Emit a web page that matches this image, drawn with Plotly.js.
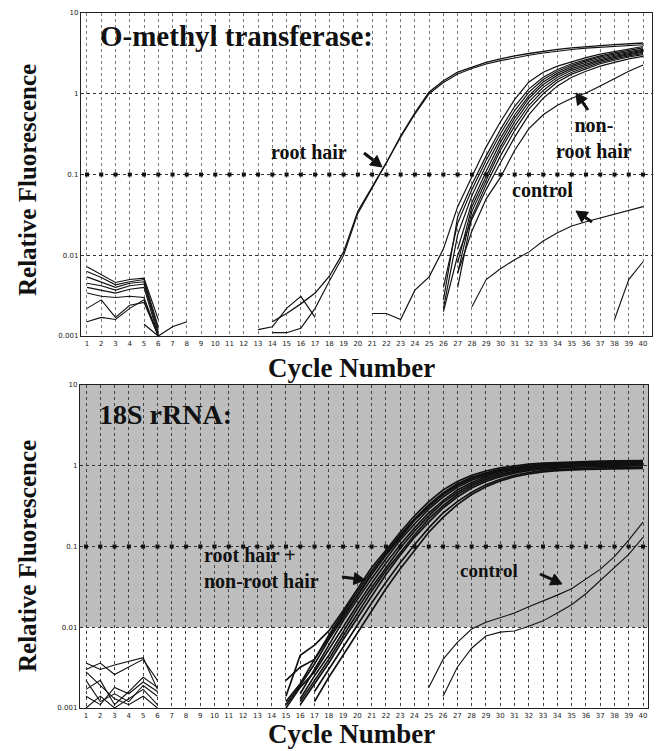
<!DOCTYPE html>
<html>
<head>
<meta charset="utf-8">
<script src="https://cdn.plot.ly/plotly-3.0.1.min.js"></script>
<style>html,body{margin:0;padding:0;background:#fff;}#chart{width:660px;height:751px;}</style>
</head>
<body>
<div id="chart"></div>
<script>
// ---------- data ----------
const cycles = [1,2,3,4,5,6,7,8,9,10,11,12,13,14,15,16,17,18,19,20,21,22,23,24,25,26,27,28,29,30,31,32,33,34,35,36,37,38,39,40];
const cycleLabels = cycles.map(String);
const yTickVals = [0.001, 0.01, 0.1, 1, 10];
const yTickText = ['0.001', '0.01', '0.1', '1', '10'];
const threshold = 0.1;

// Panel 1: O-methyl transferase
const omtEarlyCycles = [1,2,3,4,5,6];
const omtEarly = [
  [0.0072,0.0058,0.0046,0.0050,0.0052,0.0016],
  [0.0063,0.0053,0.0043,0.0047,0.0050,0.0013],
  [0.0054,0.0047,0.0040,0.0045,0.0047,0.0012],
  [0.0045,0.0042,0.0037,0.0042,0.0044,0.0011],
  [0.0040,0.0037,0.0034,0.0038,0.0040,0.0010],
  [0.0034,0.0031,0.0030,0.0031,0.0030,0.0010],
  [0.0022,0.0028,0.0017,0.0024,0.0026,0.0010],
  [0.0015,0.0017,0.0016,0.0022,0.0028,0.0010]
];
const omtLateNoiseCycles = [5,6,7,8];
const omtLateNoise = [0.0014,0.0010,0.0013,0.0015];
const omtBumpCycles = [13,14,15,16,17];
const omtBump = [0.0012,0.0013,0.0022,0.0031,0.0017];

const omtRootCycles = [14,15,16,17,18,19,20,21,22,23,24,25,26,27,28,29,30,31,32,33,34,35,36,37,38,39,40];
const omtRootHairA = [0.0015,0.0019,0.0025,0.0034,0.0055,0.011,0.035,0.07,0.14,0.30,0.58,1.05,1.45,1.85,2.15,2.45,2.7,2.95,3.15,3.35,3.55,3.7,3.85,3.95,4.05,4.15,4.25];
const omtRootHairB = [0.0011,0.0011,0.00125,0.0022,0.0048,0.010,0.033,0.068,0.135,0.29,0.56,1.0,1.38,1.76,2.05,2.33,2.57,2.8,3.0,3.2,3.38,3.53,3.67,3.78,3.88,3.97,4.05];

const omtNonRootCycles = [21,22,23,24,25,26,27,28,29,30,31,32,33,34,35,36,37,38,39,40];
const omtNonRoot = [
  [0.0019,0.0019,0.0016,0.0037,0.0054,0.012,0.04,0.095,0.22,0.45,0.85,1.4,1.85,2.2,2.5,2.8,3.1,3.35,3.6,3.85],
  [null,null,null,null,null,0.0028,0.03,0.075,0.17,0.36,0.7,1.15,1.6,2.0,2.35,2.65,2.95,3.2,3.45,3.7],
  [null,null,null,null,null,0.004,0.025,0.065,0.15,0.32,0.62,1.05,1.5,1.9,2.25,2.55,2.85,3.1,3.35,3.55],
  [null,null,null,null,null,0.0022,0.018,0.055,0.13,0.28,0.55,0.95,1.4,1.8,2.15,2.45,2.75,3.0,3.25,3.45],
  [null,null,null,null,null,null,0.012,0.045,0.11,0.25,0.5,0.88,1.3,1.7,2.05,2.35,2.65,2.9,3.15,3.35],
  [null,null,null,null,null,null,0.008,0.04,0.095,0.22,0.45,0.8,1.2,1.6,1.95,2.25,2.55,2.8,3.05,3.25],
  [null,null,null,null,null,null,0.006,0.035,0.085,0.2,0.4,0.72,1.1,1.5,1.85,2.15,2.45,2.7,2.95,3.15],
  [null,null,null,null,null,null,0.004,0.03,0.075,0.17,0.35,0.65,1.0,1.4,1.75,2.05,2.35,2.6,2.85,3.05],
  [null,null,null,null,null,0.002,0.01,0.028,0.065,0.14,0.29,0.55,0.88,1.25,1.6,1.9,2.2,2.45,2.7,2.9],
  [null,null,null,null,null,null,0.006,0.02,0.05,0.092,0.2,0.37,0.55,0.72,0.88,1.02,1.25,1.55,1.9,2.27]
];
const omtControlCycles = [28,29,30,31,32,33,34,35,36,37,38,39,40];
const omtControl = [0.0023,0.005,0.0068,0.0088,0.011,0.015,0.019,0.023,0.026,0.029,0.032,0.036,0.040];
const omtControl2Cycles = [38,39,40];
const omtControl2 = [0.0016,0.005,0.0083];

// Panel 2: 18S rRNA
const rrnaEarlyCycles = [1,2,3,4,5,6];
const rrnaEarly = [
  [0.0036,0.0030,0.0034,0.0038,0.0042,0.0017],
  [0.0030,0.0036,0.0026,0.0032,0.0040,0.0022],
  [0.0017,0.0022,0.0011,0.0016,0.0024,0.0018],
  [0.0014,0.0011,0.0018,0.0015,0.0021,0.0016],
  [0.0022,0.0012,0.0015,0.0012,0.0019,0.0014],
  [0.0010,0.0014,0.0010,0.0013,0.0017,0.0011],
  [0.0028,0.0019,0.0013,0.0011,0.0014,0.0010]
];
const rrnaCycles = [15,16,17,18,19,20,21,22,23,24,25,26,27,28,29,30,31,32,33,34,35,36,37,38,39,40];
const rrnaHair = [
  [0.0014,0.0045,0.006,0.009,0.016,0.03,0.055,0.09,0.15,0.24,0.36,0.5,0.64,0.76,0.86,0.94,1.0,1.05,1.08,1.1,1.12,1.13,1.14,1.15,1.15,1.16],
  [0.0012,0.002,0.004,0.008,0.015,0.027,0.05,0.085,0.14,0.22,0.33,0.46,0.6,0.72,0.82,0.9,0.96,1.01,1.05,1.07,1.09,1.1,1.11,1.12,1.12,1.13],
  [0.0022,0.0032,0.004,0.0075,0.014,0.025,0.046,0.08,0.135,0.215,0.32,0.45,0.58,0.7,0.8,0.88,0.94,0.99,1.03,1.06,1.08,1.09,1.1,1.11,1.11,1.12],
  [0.0011,0.0019,0.0035,0.007,0.013,0.024,0.045,0.078,0.13,0.21,0.31,0.44,0.57,0.69,0.79,0.87,0.93,0.98,1.02,1.05,1.07,1.08,1.09,1.1,1.1,1.11],
  [null,0.0015,0.003,0.006,0.012,0.022,0.04,0.07,0.12,0.19,0.29,0.41,0.54,0.66,0.76,0.85,0.91,0.96,1.0,1.03,1.05,1.06,1.07,1.08,1.08,1.09],
  [0.001,0.0018,0.0028,0.0052,0.01,0.019,0.035,0.062,0.105,0.17,0.26,0.37,0.5,0.62,0.73,0.82,0.89,0.94,0.98,1.01,1.03,1.04,1.05,1.06,1.06,1.07],
  [null,0.0013,0.0025,0.0045,0.0088,0.017,0.031,0.055,0.095,0.155,0.24,0.35,0.47,0.59,0.7,0.79,0.86,0.92,0.96,0.99,1.01,1.02,1.03,1.04,1.04,1.05],
  [null,0.0012,0.0022,0.004,0.0078,0.015,0.028,0.05,0.085,0.14,0.22,0.32,0.44,0.56,0.67,0.76,0.84,0.9,0.94,0.97,0.99,1.0,1.01,1.02,1.02,1.03],
  [null,0.0011,0.002,0.0036,0.007,0.013,0.025,0.045,0.078,0.13,0.2,0.3,0.41,0.53,0.64,0.73,0.81,0.87,0.91,0.94,0.96,0.97,0.98,0.99,0.99,1.0],
  [null,null,0.0016,0.003,0.0055,0.0105,0.02,0.036,0.063,0.105,0.17,0.26,0.36,0.47,0.58,0.68,0.76,0.82,0.87,0.9,0.92,0.93,0.94,0.95,0.95,0.96],
  [null,null,0.0012,0.0024,0.0045,0.0085,0.016,0.03,0.053,0.09,0.15,0.23,0.33,0.44,0.55,0.65,0.73,0.79,0.84,0.87,0.89,0.9,0.91,0.92,0.92,0.93]
];
const rrnaCtrlACycles = [25,26,27,28,29,30,31,32,33,34,35,36,37,38,39,40];
const rrnaCtrlA = [0.0018,0.004,0.0065,0.0095,0.0115,0.013,0.015,0.018,0.021,0.025,0.03,0.04,0.052,0.075,0.12,0.2];
const rrnaCtrlBCycles = [26,27,28,29,30,31,32,33,34,35,36,37,38,39,40];
const rrnaCtrlB = [0.0014,0.0032,0.0055,0.0078,0.0087,0.009,0.0103,0.012,0.015,0.019,0.026,0.038,0.055,0.08,0.13];

// ---------- layout helpers ----------
const W = 660, H = 751;
const M = {l: 80, r: 8, t: 13, b: 43};
const px = v => (v - M.l) / (W - M.l - M.r);
const py = v => (H - M.b - v) / (H - M.t - M.b);
const SERIF = 'Liberation Serif, DejaVu Serif, serif';

const traces = [];
function addLine(xa, ya, x, y, w) {
  traces.push({type: 'scatter', mode: 'lines', x: x, y: y, xaxis: xa, yaxis: ya,
    line: {color: '#111', width: w || 1.2}, connectgaps: false, hoverinfo: 'skip', showlegend: false});
}
// panel 1
omtEarly.forEach(v => addLine('x', 'y', omtEarlyCycles, v, 1.1));
addLine('x', 'y', omtLateNoiseCycles, omtLateNoise, 1.2);
addLine('x', 'y', omtBumpCycles, omtBump, 1.2);
addLine('x', 'y', omtRootCycles, omtRootHairA, 1.3);
addLine('x', 'y', omtRootCycles, omtRootHairB, 1.1);
omtNonRoot.forEach(v => addLine('x', 'y', omtNonRootCycles, v, 1.2));
addLine('x', 'y', omtControlCycles, omtControl, 1.1);
addLine('x', 'y', omtControl2Cycles, omtControl2, 1.1);
traces.push({type: 'scatter', mode: 'markers', x: cycles, y: cycles.map(() => threshold), xaxis: 'x', yaxis: 'y',
  marker: {symbol: 'square', size: 4, color: '#111'}, hoverinfo: 'skip', showlegend: false});
// panel 2
rrnaEarly.forEach(v => addLine('x2', 'y2', rrnaEarlyCycles, v, 1.1));
rrnaHair.forEach(v => addLine('x2', 'y2', rrnaCycles, v, 1.7));
addLine('x2', 'y2', rrnaCtrlACycles, rrnaCtrlA, 1.1);
addLine('x2', 'y2', rrnaCtrlBCycles, rrnaCtrlB, 1.1);
traces.push({type: 'scatter', mode: 'markers', x: cycles, y: cycles.map(() => threshold), xaxis: 'x2', yaxis: 'y2',
  marker: {symbol: 'square', size: 4, color: '#111'}, hoverinfo: 'skip', showlegend: false});

function xAxis(domain, range, anchor, gridc) {
  return {domain: domain, range: range, anchor: anchor, tickvals: cycles, ticktext: cycleLabels,
    tickfont: {family: 'DejaVu Sans', size: 7, color: '#222'}, ticks: '', showgrid: true,
    gridcolor: gridc, griddash: 'dot', gridwidth: 1, zeroline: false,
    showline: true, mirror: true, linecolor: '#222', linewidth: 1.2, fixedrange: true};
}
function yAxis(domain, anchor) {
  return {domain: domain, type: 'log', range: [-3, 1], anchor: anchor, tickvals: yTickVals, ticktext: yTickText,
    tickfont: {family: 'DejaVu Sans', size: 7, color: '#222'}, ticks: '', showgrid: true,
    gridcolor: '#333', griddash: 'dot', gridwidth: 1, zeroline: false,
    showline: true, mirror: true, linecolor: '#222', linewidth: 1.2, fixedrange: true};
}

const bold = s => '<b>' + s + '</b>';
function label(text, x, y, size, extra) {
  return Object.assign({text: text, xref: 'paper', yref: 'paper', x: px(x), y: py(y),
    xanchor: 'center', yanchor: 'middle',
    showarrow: false, font: {family: SERIF, size: size, color: '#111'}}, extra || {});
}
// arrow drawn as shapes: shaft + solid triangular head (pixel coords -> paper)
function arrowShapes(xt, yt, xh, yh) {
  const dx = xh - xt, dy = yh - yt, len = Math.hypot(dx, dy);
  const ux = dx / len, uy = dy / len, nx = -uy, ny = ux;
  const hl = 11, hw = 6;
  const bx = xh - ux * hl, by = yh - uy * hl;
  const p = (x, y) => px(x).toFixed(5) + ',' + py(y).toFixed(5);
  return [
    {type: 'line', xref: 'paper', yref: 'paper', x0: px(xt), y0: py(yt), x1: px(bx), y1: py(by),
     line: {color: '#111', width: 3}},
    {type: 'path', xref: 'paper', yref: 'paper',
     path: 'M' + p(xh, yh) + ' L' + p(bx + nx * hw, by + ny * hw) + ' L' + p(bx - nx * hw, by - ny * hw) + ' Z',
     fillcolor: '#111', line: {color: '#111', width: 1}}
  ];
}

const annotations = [
  label(bold('O-methyl transferase:'), 98, 36, 29, {xanchor: 'left'}),
  label(bold('18S rRNA:'), 97, 414, 28, {xanchor: 'left'}),
  label(bold('Cycle Number'), 351, 351, 27, {yanchor: 'top'}),
  label(bold('Cycle Number'), 351, 751, 27, {yanchor: 'bottom'}),
  label(bold('Relative Fluorescence'), 27, 180, 25, {textangle: -90}),
  label(bold('Relative Fluorescence'), 27, 556, 25, {textangle: -90}),
  label(bold('root hair'), 309, 152, 20),
  label(bold('non-<br>root hair'), 594, 138, 20, {align: 'center'}),
  label(bold('control'), 542, 190, 20),
  label(bold('root hair +<br>non-root hair'), 202, 568, 20, {xanchor: 'left', align: 'left'}),
  label(bold('control'), 489, 570, 19)
];

const shapes = [
  {type: 'rect', xref: 'x2 domain', yref: 'y2 domain', x0: 0, x1: 1, y0: 0.25, y1: 1,
   fillcolor: '#bdbdbd', line: {width: 0}, layer: 'below'},
  {type: 'line', xref: 'x domain', yref: 'y', x0: 0, x1: 1, y0: Math.log10(threshold), y1: Math.log10(threshold),
   line: {color: '#111', width: 2, dash: 'dot'}},
  {type: 'line', xref: 'x2 domain', yref: 'y2', x0: 0, x1: 1, y0: Math.log10(threshold), y1: Math.log10(threshold),
   line: {color: '#111', width: 2, dash: 'dot'}}
].concat(
  arrowShapes(364, 153, 382, 167),
  arrowShapes(588, 110, 576, 93),
  arrowShapes(592, 222, 576, 211),
  arrowShapes(342, 577, 365, 580),
  arrowShapes(540, 574, 562, 584)
);

const layout = {
  width: W, height: H, margin: M, paper_bgcolor: '#fff', plot_bgcolor: '#fff', showlegend: false,
  xaxis: xAxis([px(81), 1], [0.58, 40.63], 'y', '#777'),
  yaxis: yAxis([py(336), 1], 'x'),
  xaxis2: xAxis([0, px(648)], [0.58, 40.35], 'y2', '#444'),
  yaxis2: yAxis([0, py(385)], 'x2'),
  annotations: annotations,
  shapes: shapes
};

Plotly.newPlot('chart', traces, layout, {staticPlot: true, displayModeBar: false});
</script>
</body>
</html>
